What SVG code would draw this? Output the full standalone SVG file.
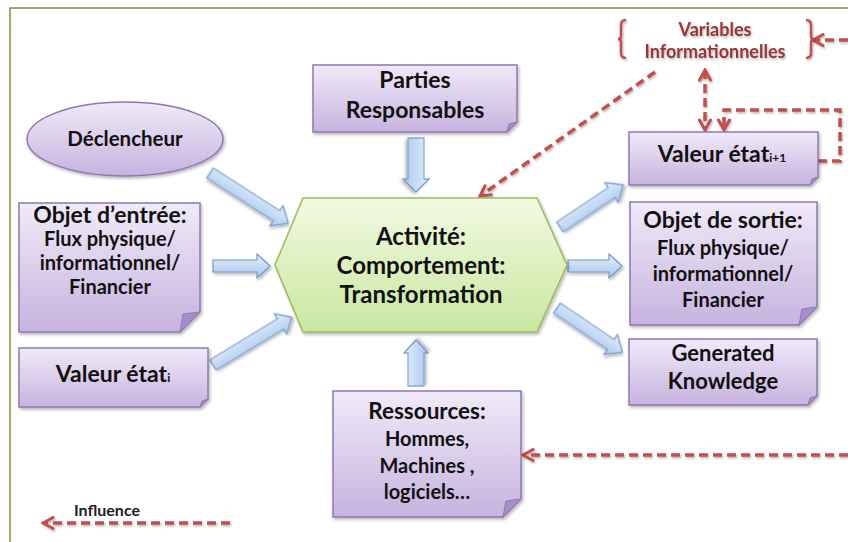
<svg xmlns="http://www.w3.org/2000/svg" width="848" height="542" viewBox="0 0 848 542">
<defs>
<linearGradient id="gPurple" x1="0" y1="0" x2="0" y2="1">
<stop offset="0" stop-color="#f0eaf8"/>
<stop offset="1" stop-color="#c7b3df"/>
</linearGradient>
<linearGradient id="gGreen" x1="0" y1="0" x2="0" y2="1">
<stop offset="0" stop-color="#f2f9e2"/>
<stop offset="1" stop-color="#c9e7a0"/>
</linearGradient>
<linearGradient id="gBlue" x1="0" y1="0" x2="0" y2="1">
<stop offset="0" stop-color="#e3eefb"/>
<stop offset="1" stop-color="#a9c8ef"/>
</linearGradient>
<filter id="shadow" x="-10%" y="-10%" width="130%" height="130%">
<feDropShadow dx="1.5" dy="2" stdDeviation="1.5" flood-color="#000" flood-opacity="0.28"/>
</filter>
<filter id="tshadow" x="-10%" y="-10%" width="130%" height="130%">
<feDropShadow dx="1" dy="1.5" stdDeviation="1" flood-color="#000" flood-opacity="0.3"/>
</filter>
<filter id="lshadow" filterUnits="userSpaceOnUse" x="0" y="0" width="848" height="542">
<feDropShadow dx="1" dy="1.5" stdDeviation="1" flood-color="#000" flood-opacity="0.3"/>
</filter>
<marker id="chev" viewBox="0 0 14 14" refX="12" refY="7" markerWidth="14" markerHeight="14" markerUnits="userSpaceOnUse" orient="auto-start-reverse">
<path d="M2,1.5 L12,7 L2,12.5" fill="none" stroke="#c0504d" stroke-width="3" stroke-linejoin="miter" stroke-linecap="round"/>
</marker>
<style>
.box{fill:url(#gPurple);stroke:#8e77b2;stroke-width:1.5;filter:url(#shadow)}
.fold{fill:#a58dc8;stroke:#8e77b2;stroke-width:1}
.hex{fill:url(#gGreen);stroke:#9bbb59;stroke-width:1.5;filter:url(#shadow)}
.barrow{fill:url(#gBlue);stroke:#6f97cc;stroke-width:1.2;filter:url(#shadow)}
.dash{fill:none;stroke:#c0504d;stroke-width:3.5;stroke-dasharray:9 5;filter:url(#lshadow)}
.brace{fill:none;stroke:#c0504d;stroke-width:2.5;filter:url(#lshadow)}
.t{font-family:Lato,"Liberation Sans",sans-serif;font-weight:bold;fill:#111;text-anchor:middle}
.big{font-size:23px}
.mid{font-size:20px}
.hx{font-size:24px}
.var{font-family:Lato,"Liberation Sans",sans-serif;font-weight:bold;fill:#953735;text-anchor:middle;font-size:18px;filter:url(#lshadow)}
.sub{font-size:12px}
</style>
</defs>
<rect width="848" height="542" fill="#ffffff"/>
<rect x="10" y="8" width="900" height="600" fill="none" stroke="#77933c" stroke-width="1.5"/>

<g id="connectors">
<polygon class="barrow" transform="translate(210,173) rotate(32.7)" points="0,-6 79,-6 79,-12 93,0 79,12 79,6 0,6"/>
<polygon class="barrow" transform="translate(213,266)" points="0,-6 44,-6 44,-12 57,0 44,12 44,6 0,6"/>
<polygon class="barrow" transform="translate(213,365) rotate(-31.3)" points="0,-6 79,-6 79,-12 92,0 79,12 79,6 0,6"/>
<polygon class="barrow" transform="translate(560,227) rotate(-33.7)" points="0,-6 62,-6 62,-12 76,0 62,12 62,6 0,6"/>
<polygon class="barrow" transform="translate(568,266)" points="0,-6 41,-6 41,-12 54,0 41,12 41,6 0,6"/>
<polygon class="barrow" transform="translate(557,308) rotate(34.1)" points="0,-6 65,-6 65,-12 79,0 65,12 65,6 0,6"/>
<polygon class="barrow" transform="translate(416,138) rotate(90)" points="0,-8 41,-8 41,-13 54,0 41,13 41,8 0,8"/>
<polygon class="barrow" transform="translate(416,386) rotate(-90)" points="0,-8 33,-8 33,-12 46,0 33,12 33,8 0,8"/>
<path class="dash" d="M848,40 H813" marker-end="url(#chev)"/>
<path class="dash" d="M705,70 V130" marker-start="url(#chev)" marker-end="url(#chev)"/>
<path class="dash" d="M818,161 H840 V110 H724 V130" marker-end="url(#chev)"/>
<path class="dash" d="M655,72 L480,196" marker-end="url(#chev)"/>
<path class="dash" d="M848,455 H523" marker-end="url(#chev)"/>
<path class="dash" d="M230,523 H43" marker-end="url(#chev)"/>
</g>

<g id="variables">
<path class="brace" d="M626,20 Q621,20 621,25 V36 Q621,39 618,39 Q621,39 621,42 V53 Q621,58 626,58"/>
<path class="brace" d="M806,20 Q811,20 811,25 V36 Q811,39 814,39 Q811,39 811,42 V53 Q811,58 806,58"/>
<text class="var" x="715" y="36">Variables</text>
<text class="var" x="715" y="58">Informationnelles</text>
</g>

<g id="declencheur">
<ellipse cx="125" cy="139" rx="98" ry="37" fill="url(#gPurple)" stroke="#8e77b2" stroke-width="1.5" filter="url(#shadow)"/>
<text class="t" x="125" y="146" font-size="20.5">Déclencheur</text>
</g>

<g id="parties">
<path class="box" d="M313,65 H517 V122 L507,132 H313 Z"/>
<path class="fold" d="M507,132 L509,124 L517,122 Z"/>
<text class="t big" x="415" y="88">Parties</text>
<text class="t big" x="415" y="118">Responsables</text>
</g>

<g id="objet-entree">
<path class="box" d="M19,203 H200 V312 L180,332 H19 Z"/>
<path class="fold" d="M180,332 L183,314 L200,312 Z"/>
<text class="t big" x="110" y="223">Objet d’entrée:</text>
<text class="t mid" x="110" y="246">Flux physique/</text>
<text class="t mid" x="110" y="270">informationnel/</text>
<text class="t mid" x="110" y="294">Financier</text>
</g>

<g id="valeur-i">
<path class="box" d="M19,348 H208 V399 L200,407 H19 Z"/>
<path class="fold" d="M200,407 L202,401 L208,399 Z"/>
<text class="t big" x="113" y="382">Valeur état<tspan class="sub">i</tspan></text>
</g>

<g id="activite">
<polygon class="hex" points="275,265 303,198 537,198 567,265 537,332 303,332"/>
<text class="t hx" x="421" y="245">Activité:</text>
<text class="t hx" x="421" y="274">Comportement:</text>
<text class="t hx" x="421" y="303">Transformation</text>
</g>

<g id="valeur-i1">
<path class="box" d="M629,132 H818 V177 L810,185 H629 Z"/>
<path class="fold" d="M810,185 L812,179 L818,177 Z"/>
<text class="t big" x="722" y="162">Valeur état<tspan class="sub">i+1</tspan></text>
</g>

<g id="objet-sortie">
<path class="box" d="M630,202 H817 V307 L799,325 H630 Z"/>
<path class="fold" d="M799,325 L802,309 L817,307 Z"/>
<text class="t big" x="723" y="228">Objet de sortie:</text>
<text class="t mid" x="723" y="255">Flux physique/</text>
<text class="t mid" x="723" y="281">informationnel/</text>
<text class="t mid" x="723" y="307">Financier</text>
</g>

<g id="generated">
<path class="box" d="M629,339 H817 V396 L808,405 H629 Z"/>
<path class="fold" d="M808,405 L810,398 L817,396 Z"/>
<text class="t" x="723" y="361" font-size="22">Generated</text>
<text class="t" x="723" y="389" font-size="22">Knowledge</text>
</g>

<g id="ressources">
<path class="box" d="M333,391 H521 V499 L503,517 H333 Z"/>
<path class="fold" d="M503,517 L506,501 L521,499 Z"/>
<text class="t" x="427" y="419" font-size="22.5">Ressources:</text>
<text class="t mid" x="427" y="446">Hommes,</text>
<text class="t mid" x="427" y="473">Machines ,</text>
<text class="t mid" x="427" y="499">logiciels…</text>
</g>

<g id="legende">
<text x="74" y="516" font-family="Lato,'Liberation Sans',sans-serif" font-weight="bold" font-size="16" fill="#222">Influence</text>
</g>
</svg>
